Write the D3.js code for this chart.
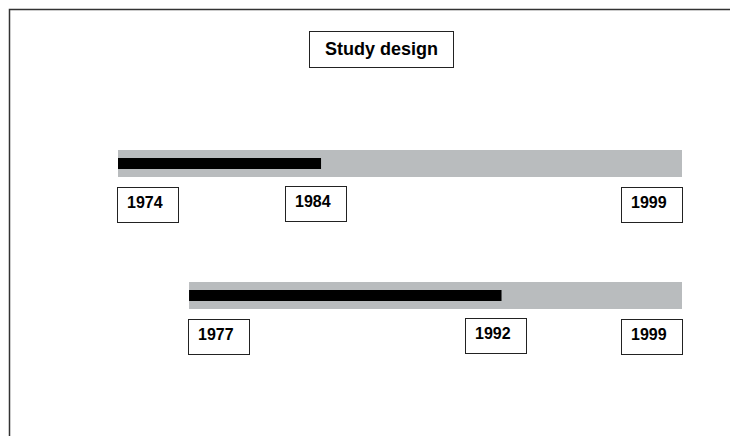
<!DOCTYPE html>
<html>
<head>
<meta charset="utf-8">
<script src="https://cdn.jsdelivr.net/npm/d3@7"></script>
<style>
  body { margin: 0; background: #fff; }
  svg { display: block; }
</style>
</head>
<body>
<div id="chart"></div>
<script>
/*
  Study design timeline
*/

var title = "Study design",
    startYears = [1974, 1977],
    barStart = [1974, 1977.15],   // drawn start
    followEnd = [1983, 1991],
    midLabels = [1984, 1992],
    endYears = [1999, 1999];

var width = 730,
    height = 436,
    boxW = 61,
    boxH = 35,
    barH = 27,
    innerH = 11;

var rows = startYears.map(function(d, i) {
  return {row: i, start: d, barStart: barStart[i], follow: followEnd[i], mid: midLabels[i], end: endYears[i]};
});

var x = d3.scaleLinear().domain([1974, 1999]).range([118, 682]);
var y = d3.scalePoint().domain(rows.map(function(d) { return d.row; })).range([163.5, 295.5]);

var svg = d3.select("#chart").append("svg")
  .attr("width", width)
  .attr("height", height);

// frame
svg.append("path")
  .attr("d", "M9.5," + height + "V9.5H" + width)
  .attr("fill", "none")
  .attr("stroke", "#333")
  .attr("stroke-width", 1.5);

// title box
var tg = svg.append("g");
tg.append("rect")
  .attr("x", 309.5).attr("y", 31.5)
  .attr("width", 144).attr("height", 36)
  .attr("fill", "#fff").attr("stroke", "#222");
tg.append("text")
  .attr("x", 381.5).attr("y", 55)
  .attr("text-anchor", "middle")
  .style("font-family", "'Liberation Sans', Arial, sans-serif")
  .style("font-weight", "bold")
  .style("font-size", "18px")
  .text(title);

// gray bars
svg.selectAll(".bar")
  .data(rows)
  .enter().append("rect")
    .attr("class", "bar")
    .attr("x", function(d) { return x(d.barStart); })
    .attr("y", function(d) { return y(d.row) - barH / 2; })
    .attr("width", function(d) { return x(d.end) - x(d.barStart); })
    .attr("height", barH)
    .style("fill", "#b9bcbe");

// black follow-up bars
svg.selectAll(".follow")
  .data(rows)
  .enter().append("rect")
    .attr("class", "follow")
    .attr("x", function(d) { return x(d.barStart); })
    .attr("y", function(d) { return y(d.row) - innerH / 2; })
    .attr("width", function(d) { return x(d.follow) - x(d.barStart); })
    .attr("height", innerH)
    .style("fill", "#000");

// year boxes: start left aligned, others right aligned
var boxes = [];
rows.forEach(function(d) {
  var top = y(d.row) + barH / 2 + 10;
  boxes.push({label: d.start, left: x(d.barStart) - 1, top: top});
  boxes.push({label: d.mid, left: x(d.mid) + 2 - boxW, top: top - 1});
  boxes.push({label: d.end, left: x(d.end) - boxW, top: top});
});

var bg = svg.selectAll(".yearbox")
  .data(boxes)
  .enter().append("g")
    .attr("class", "yearbox")
    .attr("transform", function(d) { return "translate(" + Math.round(d.left) + "," + Math.round(d.top) + ")"; });

bg.append("rect")
  .attr("x", 0.5).attr("y", 0.5)
  .attr("width", boxW).attr("height", boxH)
  .attr("fill", "#fff").attr("stroke", "#222");

bg.append("text")
  .attr("x", 10)
  .attr("y", 21)
  .style("font-family", "'Liberation Sans', Arial, sans-serif")
  .style("font-weight", "bold")
  .style("font-size", "16px")
  .text(function(d) { return d.label; });
</script>
</body>
</html>
